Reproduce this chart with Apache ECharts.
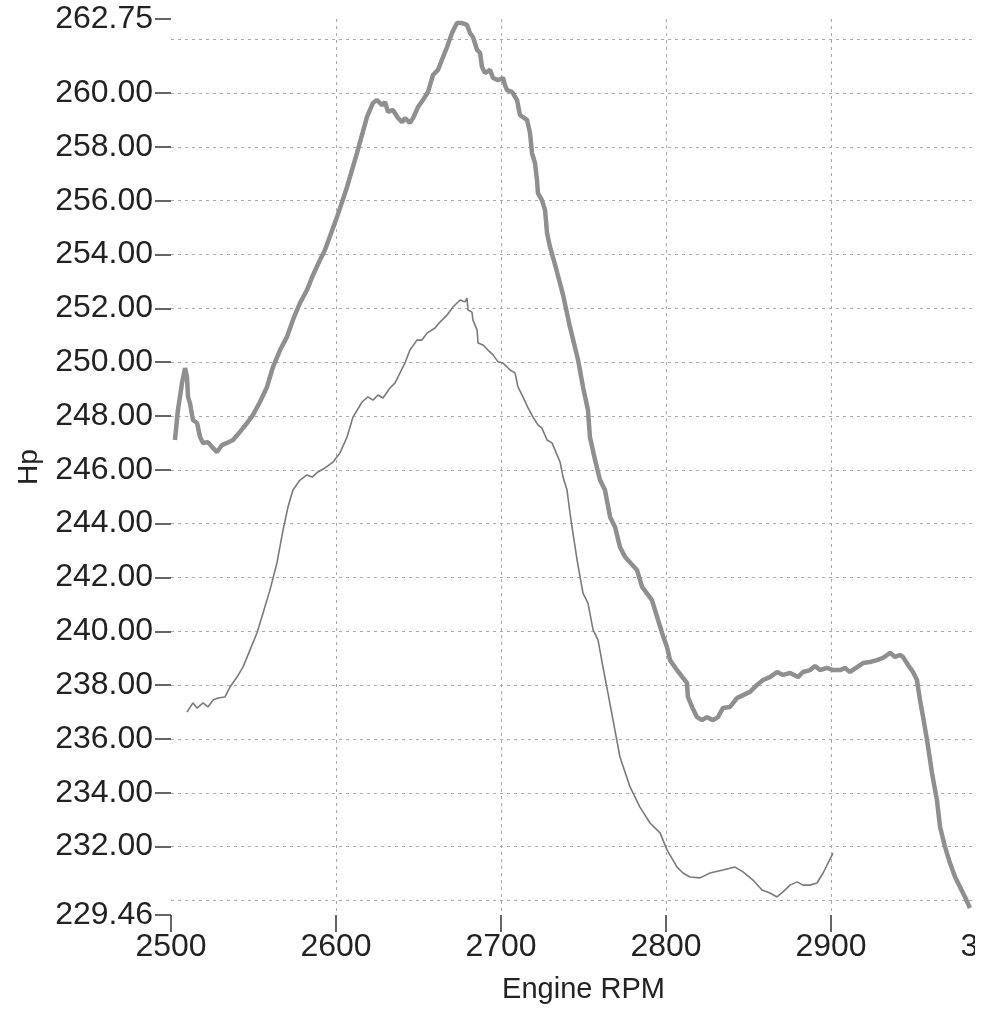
<!DOCTYPE html>
<html><head><meta charset="utf-8">
<script src="https://cdn.jsdelivr.net/npm/echarts@6/dist/echarts.min.js"></script>
<style>html,body{margin:0;padding:0;background:#fff;} #c{width:975px;height:1015px;overflow:hidden;}</style>
</head><body><div id="c"></div>
<script>
// ---- data ----
const xTickValues = [2500, 2600, 2700, 2800, 2900, 3000];
const yLabelValues = [229.46, 232, 234, 236, 238, 240, 242, 244, 246, 248, 250, 252, 254, 256, 258, 260, 262.75];
const yGridValues = [230, 232, 234, 236, 238, 240, 242, 244, 246, 248, 250, 252, 254, 256, 258, 260, 262];
const xName = 'Engine RPM';
const yName = 'Hp';

const thickRpm = [2502.4,2504.2,2506.7,2508.5,2509.7,2510.3,2511.5,2513.3,2515.8,2517.6,2519.4,2522.4,2524.8,2527.9,2530.9,2533.9,2537.6,2541.8,2546.1,2549.7,2553.9,2558.2,2561.8,2566.1,2570.3,2573.9,2578.2,2582.4,2586.1,2590.3,2593.3,2600.6,2606.7,2612.7,2618.8,2622.4,2624.8,2627.9,2629.7,2631.5,2634.5,2637.6,2640.0,2641.8,2644.8,2646.7,2649.7,2652.7,2655.8,2658.8,2661.8,2664.2,2667.3,2670.3,2673.3,2676.4,2679.4,2681.2,2683.0,2685.5,2687.3,2688.5,2690.3,2693.3,2695.2,2698.2,2701.2,2702.4,2703.6,2706.7,2709.7,2711.5,2715.8,2717.6,2718.8,2720.6,2721.8,2722.4,2724.8,2726.7,2727.9,2729.7,2733.3,2737.6,2741.8,2746.7,2749.7,2752.7,2753.9,2757.0,2760.0,2763.0,2766.1,2769.1,2772.1,2775.2,2782.4,2785.5,2791.5,2795.2,2797.6,2800.6,2802.4,2806.7,2810.3,2812.7,2813.3,2815.8,2818.8,2821.8,2824.8,2828.5,2831.5,2834.5,2838.8,2843.0,2846.7,2850.9,2855.2,2858.8,2863.0,2867.3,2870.9,2875.2,2880.0,2883.0,2887.3,2890.3,2893.3,2897.6,2901.2,2905.5,2908.5,2911.5,2915.8,2919.4,2923.6,2927.9,2931.5,2935.8,2938.8,2941.8,2943.6,2946.7,2949.7,2952.1,2953.9,2955.8,2958.2,2961.2,2964.2,2966.1,2969.1,2972.1,2975.2,2978.2,2981.2,2984.2];
const thickHp = [247.11,248.22,249.23,249.78,249.45,248.71,248.48,247.85,247.74,247.22,247.0,247.03,246.85,246.66,246.92,247.0,247.11,247.41,247.74,248.04,248.52,249.08,249.82,250.45,250.94,251.57,252.2,252.68,253.24,253.8,254.17,255.39,256.51,257.77,259.11,259.63,259.74,259.55,259.67,259.3,259.37,259.07,258.92,259.07,258.89,259.07,259.48,259.74,260.04,260.67,260.86,261.23,261.71,262.23,262.6,262.6,262.53,262.23,262.08,261.6,261.49,260.97,260.74,260.86,260.56,260.48,260.56,260.3,260.11,260.04,259.74,259.18,259.0,258.51,257.77,257.4,256.77,256.28,256.02,255.65,254.8,254.28,253.5,252.5,251.31,250.08,249.08,248.22,247.22,246.37,245.62,245.25,244.25,243.88,243.13,242.76,242.28,241.65,241.16,240.42,239.94,239.42,238.93,238.56,238.27,238.08,237.56,237.19,236.81,236.7,236.81,236.7,236.81,237.15,237.19,237.52,237.63,237.75,238.01,238.19,238.3,238.49,238.38,238.45,238.3,238.49,238.56,238.71,238.56,238.64,238.56,238.56,238.64,238.49,238.67,238.82,238.86,238.93,239.01,239.2,239.05,239.12,239.05,238.75,238.49,238.19,237.45,236.82,235.96,234.74,233.73,232.73,231.99,231.39,230.87,230.5,230.13,229.72];

const thinRpm = [2509.7,2513.3,2515.8,2519.4,2522.4,2525.5,2528.5,2532.7,2535.8,2540.0,2543.6,2547.9,2552.1,2555.8,2560.0,2564.2,2567.9,2570.9,2573.9,2578.2,2582.4,2585.5,2589.1,2593.3,2598.2,2602.4,2606.7,2610.3,2615.8,2619.4,2622.4,2625.5,2628.5,2632.7,2635.8,2638.8,2641.8,2644.8,2649.1,2652.1,2655.2,2660.0,2663.0,2667.3,2670.9,2675.2,2678.2,2679.4,2680.0,2682.4,2683.0,2685.5,2686.1,2689.1,2692.1,2695.2,2698.2,2701.2,2705.5,2708.5,2710.3,2713.3,2716.4,2719.4,2722.4,2724.8,2727.9,2730.9,2732.7,2735.8,2737.6,2740.0,2741.8,2743.6,2746.1,2747.9,2749.7,2752.7,2755.8,2758.8,2761.8,2764.8,2767.9,2772.1,2778.2,2784.2,2790.3,2796.4,2800.6,2806.7,2810.3,2814.5,2820.6,2826.7,2834.5,2841.8,2846.7,2852.7,2858.2,2863.0,2867.3,2870.9,2875.2,2879.4,2883.0,2887.3,2891.5,2895.2,2898.2,2901.2];
const thinHp = [237.0,237.34,237.15,237.34,237.19,237.45,237.52,237.56,237.93,238.3,238.67,239.31,239.94,240.68,241.54,242.54,243.76,244.62,245.25,245.62,245.81,245.73,245.92,246.07,246.29,246.63,247.22,247.96,248.52,248.71,248.59,248.78,248.67,249.04,249.23,249.6,249.97,250.45,250.82,250.82,251.08,251.27,251.49,251.75,252.05,252.31,252.24,252.38,251.94,251.86,251.57,251.19,250.71,250.64,250.45,250.27,250.01,249.97,249.71,249.6,249.08,248.71,248.3,247.96,247.67,247.55,247.11,247.0,246.74,246.29,245.73,245.25,244.4,243.65,242.65,242.02,241.42,241.05,240.05,239.68,238.67,237.71,236.7,235.33,234.22,233.47,232.88,232.51,231.88,231.24,231.02,230.87,230.84,231.02,231.13,231.24,231.06,230.76,230.39,230.28,230.13,230.32,230.57,230.69,230.57,230.57,230.65,231.02,231.39,231.76];

// ---- layout ----
const L = 171, T = 19, B = 915, W = 825;
const yMin = yLabelValues[0], yMax = yLabelValues[yLabelValues.length - 1];
const k = (B - T) / (yMax - yMin);
const gTop = T + (yMax - yGridValues[yGridValues.length - 1]) * k;
const gH = (yGridValues[yGridValues.length - 1] - yGridValues[0]) * k;

const FONT = "'Liberation Sans', Arial, sans-serif";
const zip = (a, b) => a.map((v, i) => [v, b[i]]);
const GRID_LINE = {color: '#aaa', width: 1, type: [3, 4]};

const chart = echarts.init(document.getElementById('c'), null, {renderer: 'canvas'});
chart.setOption({
  backgroundColor: '#fff',
  animation: false,
  grid: [
    {left: L, top: T, width: W, height: B - T, containLabel: false, outerBoundsMode: 'none'},
    {left: L, top: gTop, width: W, height: gH, containLabel: false, outerBoundsMode: 'none'}
  ],
  xAxis: [
    {
      type: 'value', gridIndex: 0,
      min: xTickValues[0], max: xTickValues[xTickValues.length - 1], interval: 100,
      name: xName, nameLocation: 'middle', nameGap: 60,
      nameTextStyle: {fontFamily: FONT, fontSize: 29, color: '#222'},
      axisLine: {show: false},
      axisTick: {show: true, length: 17, lineStyle: {color: '#333', width: 1.5}},
      axisLabel: {fontFamily: FONT, fontSize: 32, color: '#222', margin: 16, formatter: v => String(v)},
      splitLine: {show: true, showMinLine: false, showMaxLine: false, lineStyle: GRID_LINE}
    },
    {
      type: 'value', gridIndex: 1,
      min: xTickValues[0], max: xTickValues[xTickValues.length - 1],
      axisLine: {show: false}, axisTick: {show: false}, axisLabel: {show: false}, splitLine: {show: false}
    }
  ],
  yAxis: [
    {
      type: 'value', gridIndex: 0, min: yMin, max: yMax,
      name: yName, nameLocation: 'middle', nameGap: 128, nameRotate: 90,
      nameTextStyle: {fontFamily: FONT, fontSize: 28, color: '#222'},
      axisLine: {show: false},
      axisTick: {show: true, length: 16, customValues: yLabelValues, lineStyle: {color: '#333', width: 1.5}},
      axisLabel: {fontFamily: FONT, fontSize: 32, color: '#222', margin: 18, customValues: yLabelValues,
        formatter: v => Number(v).toFixed(2)},
      splitLine: {show: false}
    },
    {
      type: 'value', gridIndex: 1,
      min: yGridValues[0], max: yGridValues[yGridValues.length - 1], interval: 2,
      axisLine: {show: false}, axisTick: {show: false}, axisLabel: {show: false},
      splitLine: {show: true, lineStyle: GRID_LINE}
    }
  ],
  series: [
    {
      type: 'line', xAxisIndex: 0, yAxisIndex: 0, data: zip(thinRpm, thinHp),
      showSymbol: false, symbol: 'none', lineStyle: {color: '#7a7a7a', width: 1.6}
    },
    {
      type: 'line', xAxisIndex: 0, yAxisIndex: 0, data: zip(thickRpm, thickHp),
      showSymbol: false, symbol: 'none', lineStyle: {color: '#8f8f8f', width: 4.5}
    }
  ]
});
</script>
</body></html>
